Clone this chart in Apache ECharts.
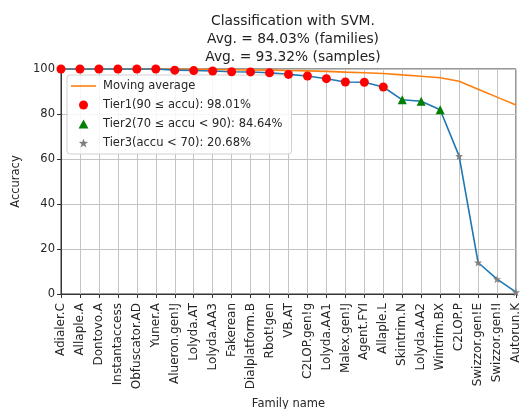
<!DOCTYPE html>
<html>
<head>
<meta charset="utf-8">
<script src="https://cdn.jsdelivr.net/npm/echarts@6/dist/echarts.min.js"></script>
<style>
html,body{margin:0;padding:0;background:#fff;}
#chart{width:524px;height:409px;}
</style>
</head>
<body>
<div id="chart"></div>
<script>
var families = ['Adialer.C','Allaple.A','Dontovo.A','Instantaccess','Obfuscator.AD','Yuner.A','Alueron.gen!J','Lolyda.AT','Lolyda.AA3','Fakerean','Dialplatform.B','Rbot!gen','VB.AT','C2LOP.gen!g','Lolyda.AA1','Malex.gen!J','Agent.FYI','Allaple.L','Skintrim.N','Lolyda.AA2','Wintrim.BX','C2LOP.P','Swizzor.gen!E','Swizzor.gen!I','Autorun.K'];
var accuracy = [100,100,100,100,100,100,99.5,99.3,99.1,98.8,98.7,98.3,97.6,96.9,95.7,94.2,94.1,92.0,86.3,85.7,81.9,61.3,14.0,6.6,0.8];
var movingAverage = [100,100,100,100,100,100,99.93,99.85,99.77,99.67,99.58,99.48,99.33,99.16,98.93,98.63,98.36,98.01,97.39,96.81,96.10,94.52,91.02,87.5,84.03];
var yTicks = [0,20,40,60,80,100];
var titleLines = ['Classification with SVM.','Avg. = 84.03% (families)','Avg. = 93.32% (samples)'];
var tierNames = ['Tier1(90 \u2264 accu): 98.01%','Tier2(70 \u2264 accu < 90): 84.64%','Tier3(accu < 70): 20.68%'];

var tier1 = accuracy.map(function(v){return v>=90? v : '-';});
var tier2 = accuracy.map(function(v){return (v>=70 && v<90)? v : '-';});
var tier3 = accuracy.map(function(v){return v<70? v : '-';});

var FONT = 'DejaVu Sans';
var TXT = '#262626';
var STAR = 'path://M0,-10 L2.35,-3.24 L9.51,-3.09 L3.8,1.24 L5.88,8.09 L0,4 L-5.88,8.09 L-3.8,1.24 L-9.51,-3.09 L-2.35,-3.24 Z';
var TRI = 'path://M0,-1 L1.1,1 L-1.1,1 Z';
var chart = echarts.init(document.getElementById('chart'), null, {renderer:'canvas'});
chart.setOption({
  animation:false,
  backgroundColor:'#fff',
  textStyle:{fontFamily:FONT},
  title:{
    text:titleLines.join('\n'),
    left:288, top:7, textAlign:'center',
    textStyle:{fontFamily:FONT,fontSize:13.8,fontWeight:'normal',color:'#222',lineHeight:18}
  },
  grid:{left:61,right:8,top:69,bottom:115,show:true,borderColor:'#333',borderWidth:1,backgroundColor:'transparent',
        containLabel:false, outerBoundsMode:'none'},
  legend:{
    orient:'vertical', left:67, top:75,
    padding:[4,9,4,4],
    itemWidth:25, itemHeight:9, itemGap:5,
    backgroundColor:'rgba(255,255,255,0.85)',
    borderColor:'#d0d0d0', borderWidth:1, borderRadius:3,
    textStyle:{fontFamily:FONT,fontSize:11.5,color:TXT,lineHeight:14,padding:[0,0,0,2]},
    data:[
      {name:'Moving average', icon:'path://M0,0 L25,0 L25,1.6 L0,1.6 Z'},
      {name:tierNames[0], icon:'circle'},
      {name:tierNames[1], icon:TRI},
      {name:tierNames[2], icon:STAR}
    ]
  },
  xAxis:{
    type:'category', data:families, boundaryGap:false,
    name:'Family name', nameLocation:'middle', nameGap:104,
    nameTextStyle:{fontFamily:FONT,fontSize:11.5,color:TXT},
    axisLine:{show:true,lineStyle:{color:'#333',width:1}},
    axisTick:{show:true,interval:0,length:4,lineStyle:{color:'#333'}},
    axisLabel:{interval:0,rotate:90,margin:9,fontFamily:FONT,fontSize:12,color:TXT},
    splitLine:{show:true,interval:0,lineStyle:{color:'#c4c4c4',width:1}}
  },
  yAxis:{
    type:'value', min:0, max:100, interval:20,
    name:'Accuracy', nameLocation:'middle', nameGap:29,
    nameTextStyle:{fontFamily:FONT,fontSize:11.5,color:TXT},
    axisLine:{show:true,lineStyle:{color:'#333',width:1}},
    axisTick:{show:true,length:4,lineStyle:{color:'#333'}},
    axisLabel:{margin:6,fontFamily:FONT,fontSize:11.5,color:TXT,
      formatter:function(v){return yTicks.indexOf(v)>=0? String(v):'';}},
    splitLine:{show:true,lineStyle:{color:'#c4c4c4',width:1}}
  },
  series:[
    {name:'Moving average', type:'line', data:movingAverage, symbol:'none',
     lineStyle:{color:'#ff7f0e',width:1.6}, itemStyle:{color:'#ff7f0e'}, z:2},
    {name:'accuracy', type:'line', data:accuracy, symbol:'none',
     lineStyle:{color:'#1f77b4',width:1.6}, itemStyle:{color:'#1f77b4'}, z:3},
    {name:tierNames[0], type:'scatter', data:tier1, symbol:'circle', symbolSize:9,
     itemStyle:{color:'#ff0000',opacity:1}, z:5},
    {name:tierNames[1], type:'scatter', data:tier2, symbol:TRI, symbolSize:9,
     itemStyle:{color:'#008000',opacity:1}, z:5},
    {name:tierNames[2], type:'scatter', data:tier3, symbol:STAR,
     symbolSize:8, itemStyle:{color:'#808080',opacity:1}, z:5}
  ]
});
</script>
</body>
</html>
